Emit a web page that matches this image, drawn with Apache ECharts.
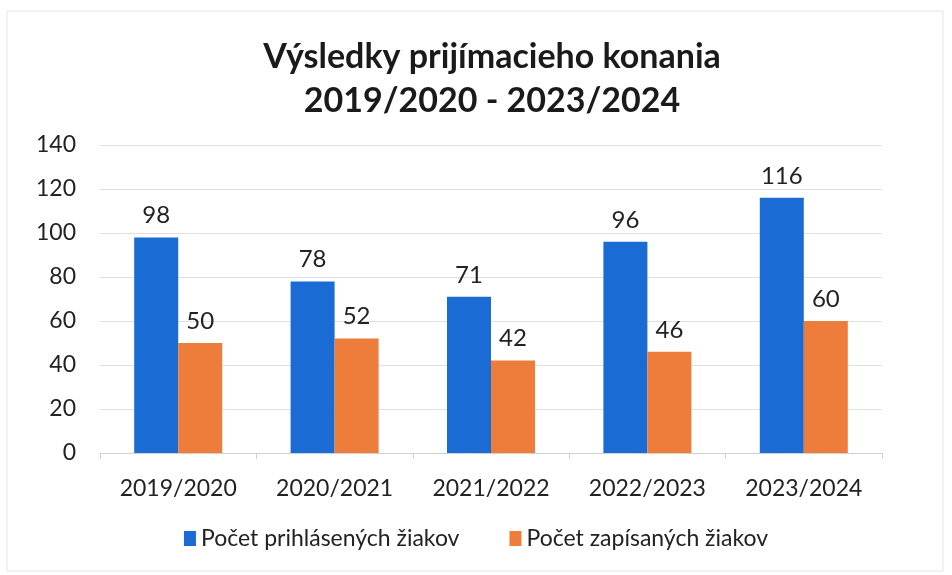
<!DOCTYPE html>
<html>
<head>
<meta charset="utf-8">
<script src="https://cdn.jsdelivr.net/npm/echarts@6/dist/echarts.min.js"></script>
<style>
  html, body { margin: 0; padding: 0; background: #fff; }
  #chart { width: 952px; height: 575px; }
</style>
</head>
<body>
<div id="chart"></div>
<script>
// school years on the x axis
const years = ['2019/2020', '2020/2021', '2021/2022', '2022/2023', '2023/2024'];
// applicants and enrolled pupils
const applied = [98, 78, 71, 96, 116];
const enrolled = [50, 52, 42, 46, 60];

const font = 'Lato, "Open Sans", sans-serif';

const chart = echarts.init(document.getElementById('chart'));

const labelStyle = {
    show: true,
    position: 'top',
    distance: 10,
    color: '#222',
    fontSize: 24,
    fontFamily: font
};

chart.setOption({
    animation: false,
    title: {
        text: 'Výsledky prijímacieho konania\n2019/2020 - 2023/2024',
        left: 487,
        textAlign: 'center',
        top: 30,
        textStyle: {
            fontFamily: font,
            fontWeight: 'bold',
            fontSize: 34,
            lineHeight: 44,
            color: '#1a1a1a'
        }
    },
    graphic: [{
        type: 'rect',
        shape: { x: 7, y: 11, width: 936, height: 560 },
        style: { fill: 'none', stroke: '#e4e4e4', lineWidth: 1 }
    }],
    legend: {
        bottom: 20,
        left: 'center',
        itemWidth: 12,
        itemHeight: 15,
        itemGap: 50,
        icon: 'rect',
        textStyle: { fontFamily: font, fontSize: 23, color: '#222' },
        data: ['Počet prihlásených žiakov', 'Počet zapísaných žiakov']
    },
    grid: { left: 100, right: 70, top: 145, bottom: 122, containLabel: false },
    xAxis: {
        type: 'category',
        data: years,
        axisLine: { lineStyle: { color: '#d0d0d0' } },
        axisTick: { show: true, length: 6, lineStyle: { color: '#d0d0d0' } },
        axisLabel: { color: '#222', fontSize: 23, fontFamily: font, margin: 24 }
    },
    yAxis: {
        type: 'value',
        min: 0,
        max: 140,
        interval: 20,
        axisLine: { show: false },
        axisTick: { show: false },
        splitLine: { lineStyle: { color: '#e0e0e0' } },
        axisLabel: { color: '#222', fontSize: 23, fontFamily: font, margin: 24 }
    },
    series: [{
        name: 'Počet prihlásených žiakov',
        type: 'bar',
        data: applied,
        barWidth: 44,
        barGap: '0%',
        itemStyle: { color: '#1a6bd4' },
        label: labelStyle
    }, {
        name: 'Počet zapísaných žiakov',
        type: 'bar',
        data: enrolled,
        barWidth: 44,
        itemStyle: { color: '#ee7d3c' },
        label: labelStyle
    }]
});
</script>
</body>
</html>
